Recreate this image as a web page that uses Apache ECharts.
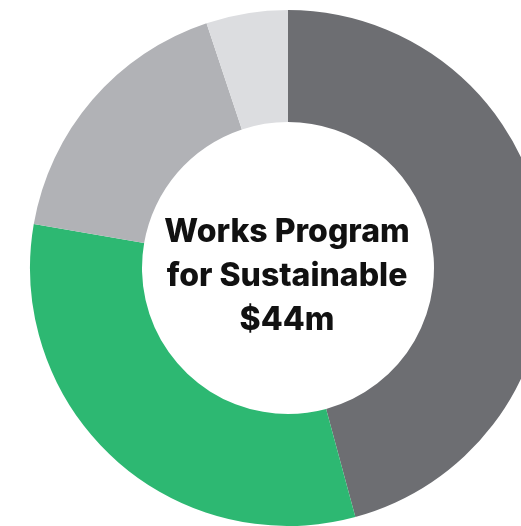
<!DOCTYPE html>
<html>
<head>
<meta charset="utf-8">
<script src="https://cdn.jsdelivr.net/npm/echarts@6/dist/echarts.min.js"></script>
<style>
  html, body { margin: 0; padding: 0; background: #ffffff; }
  #chart { width: 521px; height: 526px; }
</style>
</head>
<body>
<div id="chart"></div>
<script>
// Funding split ($m) of the works program, clockwise from 12 o'clock
const segmentNames = ['Segment A', 'Segment B', 'Segment C', 'Segment D'];
const segmentValues = [20.15, 14.05, 7.55, 2.25];
const segmentColors = ['#6d6e72', '#2db872', '#b1b2b6', '#dcdde0'];
const centreLines = ['Works Program', 'for Sustainable', '$44m'];

const chart = echarts.init(document.getElementById('chart'), null, { renderer: 'canvas' });

chart.setOption({
  animation: false,
  backgroundColor: '#ffffff',
  series: [{
    type: 'pie',
    center: [288, 268],
    radius: [146, 258],
    startAngle: 90,
    clockwise: true,
    label: { show: false },
    labelLine: { show: false },
    emphasis: { disabled: true },
    itemStyle: { borderWidth: 0 },
    data: segmentNames.map((n, i) => ({
      name: n,
      value: segmentValues[i],
      itemStyle: { color: segmentColors[i] }
    }))
  }],
  graphic: [{
    type: 'text',
    x: 287,
    y: 276,
    style: {
      text: centreLines.join('\n'),
      fill: '#111111',
      font: '800 32px Inter',
      lineHeight: 44,
      align: 'center',
      verticalAlign: 'middle'
    }
  }]
});
</script>
</body>
</html>
